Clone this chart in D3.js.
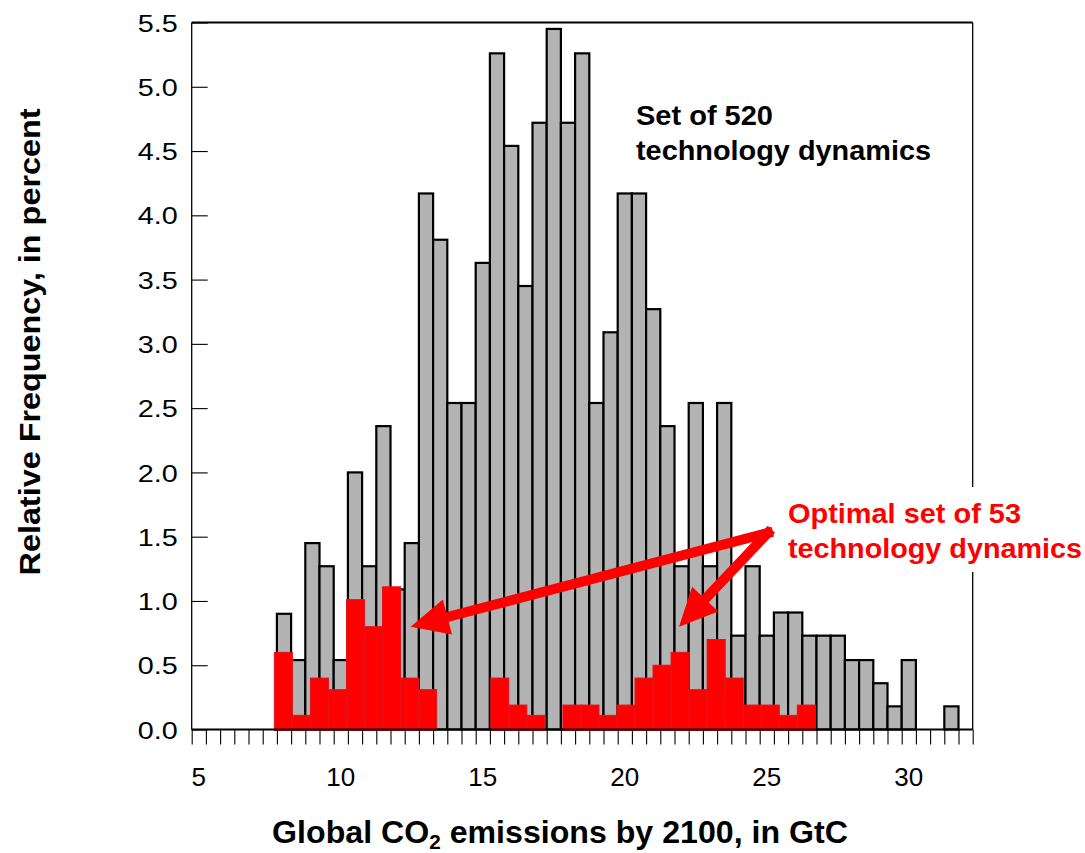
<!DOCTYPE html>
<html>
<head>
<meta charset="utf-8">
<script src="https://cdn.jsdelivr.net/npm/d3@7"></script>
<style>
  html, body { margin: 0; padding: 0; background: #fff; }
  svg { display: block; font-family: "Liberation Sans", Arial, Helvetica, sans-serif; }
</style>
</head>
<body>
<svg id="chart" width="1085" height="853"></svg>
<script>
// Histogram bins (GtC, bin centres, 0.5 wide) and relative frequency of all 520 runs (%)
const binCenters = [5, 5.5, 6, 6.5, 7, 7.5, 8, 8.5, 9, 9.5, 10, 10.5, 11, 11.5, 12, 12.5,
  13, 13.5, 14, 14.5, 15, 15.5, 16, 16.5, 17, 17.5, 18, 18.5, 19, 19.5, 20, 20.5, 21, 21.5,
  22, 22.5, 23, 23.5, 24, 24.5, 25, 25.5, 26, 26.5, 27, 27.5, 28, 28.5, 29, 29.5, 30, 30.5,
  31, 31.5, 32];
const allFreq = [0, 0, 0, 0, 0, 0, 0.90, 0.54, 1.45, 1.27, 0.54, 2.00, 1.27, 2.36, 1.09, 1.45,
  4.17, 3.81, 2.54, 2.54, 3.63, 5.26, 4.54, 3.45, 4.72, 5.45, 4.72, 5.26, 2.54, 3.09, 4.17, 4.17,
  3.27, 2.36, 1.27, 2.54, 1.27, 2.54, 0.73, 1.27, 0.73, 0.91, 0.91, 0.73, 0.73, 0.73, 0.54, 0.54,
  0.36, 0.18, 0.54, 0, 0, 0.18, 0];

// Optimal subset of 53 runs: its own binning (start and width in GtC) and frequency (%)
const optimalBinStart = 7.66;
const optimalBinWidth = 0.635;
const optimalFreq = [0.60, 0.11, 0.40, 0.31, 1.01, 0.80, 1.11, 0.40, 0.31, 0, 0, 0, 0.40, 0.19,
  0.11, 0, 0.19, 0.19, 0.11, 0.19, 0.40, 0.50, 0.60, 0.31, 0.70, 0.40, 0.19, 0.19, 0.11, 0.19];

const yTickValues = [0, 0.5, 1, 1.5, 2, 2.5, 3, 3.5, 4, 4.5, 5, 5.5];
const xLabelValues = [5, 10, 15, 20, 25, 30];

// Arrow annotation: common tail and the two tips, in data units (GtC, %)
const arrowTail = [25.04, 1.53];
const arrowTips = [[12.46, 0.80], [21.91, 0.80]];

const plot = { left: 191.7, right: 972.7, top: 22.5, bottom: 729.5 };
const svg = d3.select("#chart");

const halfBin = 0.25;
const x = d3.scaleBand().domain(binCenters).range([plot.left, plot.right]).padding(0);
const xLin = d3.scaleLinear()
  .domain([binCenters[0] - halfBin, binCenters[binCenters.length - 1] + halfBin])
  .range([plot.left, plot.right]);
const y = d3.scaleLinear().domain([0, 5.5]).range([plot.bottom, plot.top]);

// Grey histogram of all runs
svg.append("g")
  .selectAll("rect")
  .data(binCenters.map((c, i) => ({ c, v: allFreq[i] })).filter(d => d.v > 0))
  .join("rect")
  .attr("x", d => x(d.c))
  .attr("width", x.bandwidth())
  .attr("y", d => y(d.v))
  .attr("height", d => y(0) - y(d.v))
  .attr("fill", "#b3b3b3")
  .attr("stroke", "#000")
  .attr("stroke-width", 2.2);

// Red histogram of the optimal subset
svg.append("g")
  .selectAll("rect")
  .data(optimalFreq.map((v, i) => ({
    x0: optimalBinStart + i * optimalBinWidth,
    x1: optimalBinStart + (i + 1) * optimalBinWidth,
    v
  })).filter(d => d.v > 0))
  .join("rect")
  .attr("x", d => xLin(d.x0))
  .attr("width", d => xLin(d.x1) - xLin(d.x0))
  .attr("y", d => y(d.v))
  .attr("height", d => y(0) - y(d.v) + 1)
  .attr("fill", "#ff0000")
  .attr("stroke", "#e3121c")
  .attr("stroke-width", 1);

// Frame
const frame = svg.append("g").attr("stroke", "#000").attr("fill", "none");
frame.append("line").attr("x1", plot.left).attr("x2", plot.right)
  .attr("y1", plot.top).attr("y2", plot.top).attr("stroke-width", 2);
frame.append("line").attr("x1", plot.left).attr("x2", plot.left)
  .attr("y1", plot.top).attr("y2", plot.bottom).attr("stroke-width", 1.3);
frame.append("line").attr("x1", plot.right).attr("x2", plot.right)
  .attr("y1", plot.top).attr("y2", plot.bottom).attr("stroke-width", 1.3);
frame.append("line").attr("x1", plot.left).attr("x2", plot.right)
  .attr("y1", plot.bottom).attr("y2", plot.bottom).attr("stroke-width", 2);

// X axis: minor ticks on every bin edge, labels every 5 GtC
const binEdges = binCenters.map(c => c - halfBin).concat([binCenters[binCenters.length - 1] + halfBin]);
const xTicks = svg.append("g")
  .attr("transform", `translate(0,${plot.bottom})`)
  .call(d3.axisBottom(xLin).tickValues(binEdges).tickSize(15).tickFormat(""));
xTicks.select(".domain").remove();
xTicks.selectAll(".tick line").attr("stroke", "#000").attr("stroke-width", 1.1);

const xLabels = svg.append("g")
  .attr("transform", `translate(0,${plot.bottom})`)
  .call(d3.axisBottom(x).tickValues(xLabelValues).tickSize(0).tickFormat(d3.format("d")));
xLabels.select(".domain").remove();
xLabels.selectAll(".tick text")
  .attr("dy", null)
  .attr("y", 56)
  .attr("fill", "#000")
  .style("font-size", "26px")
  .style("font-family", '"Liberation Sans", Arial, sans-serif');

// Y axis: inward ticks
const yAxis = svg.append("g")
  .attr("transform", `translate(${plot.left},0)`)
  .call(d3.axisLeft(y).tickValues(yTickValues).tickSize(-16).tickPadding(14)
    .tickFormat(d3.format(".1f")));
yAxis.select(".domain").remove();
yAxis.selectAll(".tick line").attr("stroke", "#000").attr("stroke-width", 1.1);
yAxis.selectAll(".tick text")
  .attr("fill", "#000")
  .attr("dy", "0.36em")
  .style("font-size", "24px")
  .style("font-family", '"Liberation Sans", Arial, sans-serif')
  .attr("textLength", 40)
  .attr("lengthAdjust", "spacingAndGlyphs");

// Axis titles
svg.append("text")
  .attr("transform", "translate(40,342) rotate(-90)")
  .attr("text-anchor", "middle")
  .style("font-size", "30px")
  .style("font-weight", "bold")
  .attr("textLength", 467)
  .attr("lengthAdjust", "spacingAndGlyphs")
  .text("Relative Frequency, in percent");

const xTitle = svg.append("text")
  .attr("x", 560)
  .attr("y", 843)
  .attr("text-anchor", "middle")
  .style("font-size", "31px")
  .style("font-weight", "bold");
xTitle.append("tspan").text("Global CO");
xTitle.append("tspan").attr("dy", 6).style("font-size", "20px").text("2");
xTitle.append("tspan").attr("dy", -6).text(" emissions by 2100, in GtC");
// Fit the title to its width with a horizontal scale around its centre
{
  const w = xTitle.node().getBBox().width;
  const s = 576 / w;
  xTitle.attr("transform", `translate(560,0) scale(${s},1) translate(-560,0)`);
}

// Annotation: all runs
const noteAll = svg.append("g").style("font-size", "28px").style("font-weight", "bold").attr("fill", "#000");
noteAll.append("text").attr("x", 636).attr("y", 125)
  .attr("textLength", 137).attr("lengthAdjust", "spacingAndGlyphs").text("Set of 520");
noteAll.append("text").attr("x", 636).attr("y", 160)
  .attr("textLength", 295).attr("lengthAdjust", "spacingAndGlyphs").text("technology dynamics");

// Annotation: optimal subset, on a white box over the frame
svg.append("rect").attr("x", 784).attr("y", 487).attr("width", 301).attr("height", 85).attr("fill", "#fff");
const noteOpt = svg.append("g").style("font-size", "28px").style("font-weight", "bold").attr("fill", "#ff0000");
noteOpt.append("text").attr("x", 788).attr("y", 523)
  .attr("textLength", 233).attr("lengthAdjust", "spacingAndGlyphs").text("Optimal set of 53");
noteOpt.append("text").attr("x", 788).attr("y", 558)
  .attr("textLength", 294).attr("lengthAdjust", "spacingAndGlyphs").text("technology dynamics");

// Arrows from the note to each cluster of red bars
const headLen = 38, headHalf = 18, shaft = 10;
const arrows = svg.append("g").attr("fill", "#ff0000");
arrowTips.forEach(tip => {
  const x0 = xLin(arrowTail[0]), y0 = y(arrowTail[1]);
  const x1 = xLin(tip[0]), y1 = y(tip[1]);
  const dx = x1 - x0, dy = y1 - y0, len = Math.hypot(dx, dy);
  const ux = dx / len, uy = dy / len, px = -uy, py = ux;
  const bx = x1 - ux * headLen, by = y1 - uy * headLen;
  arrows.append("line")
    .attr("x1", x0).attr("y1", y0).attr("x2", bx + ux * 2).attr("y2", by + uy * 2)
    .attr("stroke", "#ff0000").attr("stroke-width", shaft).attr("stroke-linecap", "square");
  arrows.append("path")
    .attr("d", `M${x1},${y1}L${bx + px * headHalf},${by + py * headHalf}L${bx - px * headHalf},${by - py * headHalf}Z`);
});
</script>
</body>
</html>
